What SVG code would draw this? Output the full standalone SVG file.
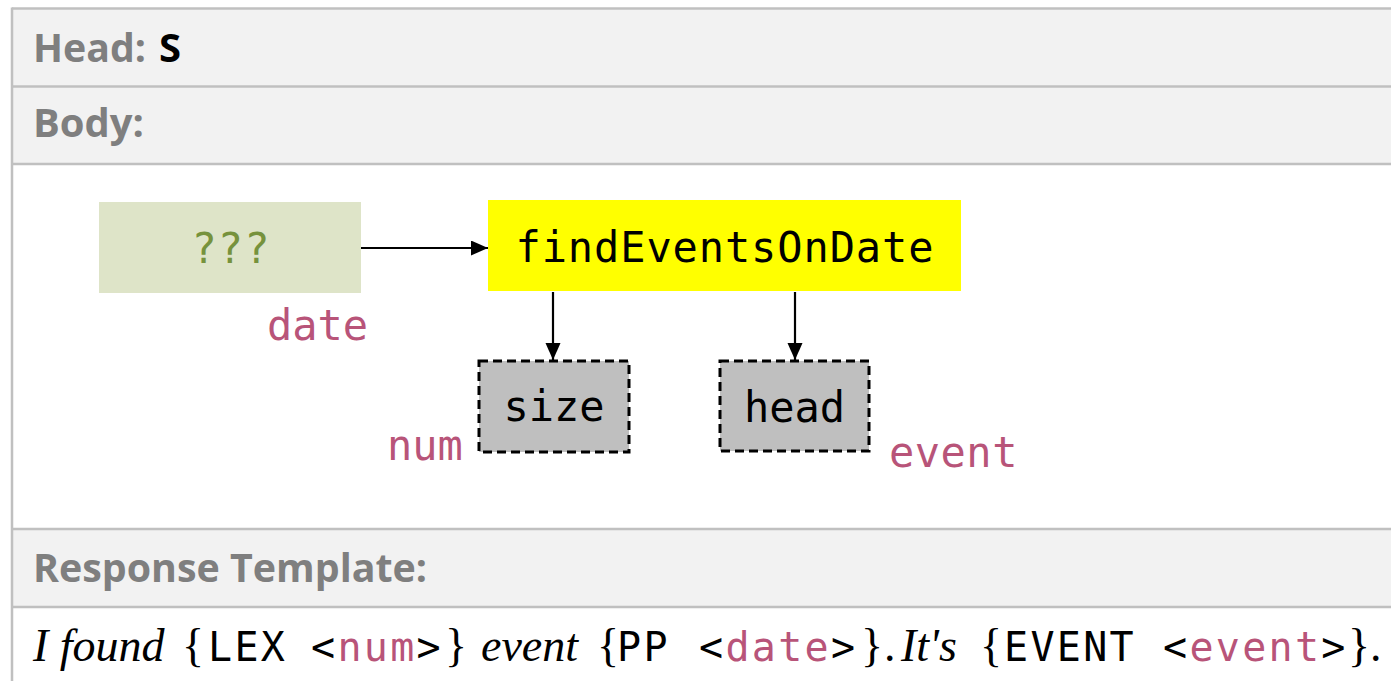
<svg xmlns="http://www.w3.org/2000/svg" width="1391" height="681" viewBox="0 0 1391 681">
  <style>
    .hdr { font-family: "Open Sans", "Liberation Sans", sans-serif; font-weight: bold; font-size: 40px; fill: #7f7f7f; }
    .mono { font-family: "DejaVu Sans Mono", "Liberation Mono", monospace; }
    .node-text { font-size: 42px; fill: #000; text-anchor: middle; }
    .lbl { font-family: "DejaVu Sans Mono", monospace; font-size: 42px; fill: #b85479; }
    .grid { stroke: #c0c0c0; stroke-width: 2.5; fill: none; }
    .edge { stroke: #000; stroke-width: 2.2; fill: none; }
    .dashed { fill: #bfbfbf; stroke: #000; stroke-width: 3; stroke-dasharray: 9 5; }
    .ser { font-family: "Liberation Serif", "Times New Roman", serif; font-size: 46px; fill: #000; }
    .it { font-style: italic; }
    .m { font-family: "DejaVu Sans Mono", monospace; font-size: 40px; letter-spacing: 2.3px; font-style: normal; }
    .pk { fill: #b85479; }
  </style>
  <defs>
    <marker id="arr" markerUnits="userSpaceOnUse" markerWidth="18" markerHeight="16" refX="17" refY="7.5" orient="auto">
      <path d="M0,0 L17,7.5 L0,15 Z" fill="#000"/>
    </marker>
  </defs>

  <!-- table frame -->
  <g id="table">
    <rect x="12" y="9" width="1379" height="77.5" fill="#f2f2f2"/>
    <rect x="12" y="86.5" width="1379" height="77.5" fill="#f2f2f2"/>
    <rect x="12" y="529" width="1379" height="78" fill="#f2f2f2"/>
    <line class="grid" x1="12" y1="8.5" x2="1391" y2="8.5"/>
    <line class="grid" x1="12" y1="86.5" x2="1391" y2="86.5"/>
    <line class="grid" x1="12" y1="164" x2="1391" y2="164"/>
    <line class="grid" x1="12" y1="529" x2="1391" y2="529"/>
    <line class="grid" x1="12" y1="607" x2="1391" y2="607"/>
    <line class="grid" x1="12" y1="7.5" x2="12" y2="681"/>
    <text class="hdr" x="33" y="62" textLength="113" lengthAdjust="spacingAndGlyphs">Head:</text>
    <text class="hdr" x="159" y="62" fill="#000" style="fill:#000">S</text>
    <text class="hdr" x="33" y="137" textLength="111" lengthAdjust="spacingAndGlyphs">Body:</text>
    <text class="hdr" x="33" y="582" textLength="394" lengthAdjust="spacingAndGlyphs">Response Template:</text>
  </g>

  <!-- connectors -->
  <g id="connectors">
    <line class="edge" x1="361" y1="248" x2="488" y2="248" marker-end="url(#arr)"/>
    <line class="edge" x1="553" y1="292" x2="553" y2="360" marker-end="url(#arr)"/>
    <line class="edge" x1="795" y1="292" x2="795" y2="360" marker-end="url(#arr)"/>
  </g>

  <g id="node-unknown">
    <rect x="99" y="202" width="262" height="91" fill="#dee4c8"/>
    <text class="mono node-text" x="231" y="263" font-size="44" style="fill:#76923c" letter-spacing="1">???</text>
    <text class="lbl" x="267" y="340">date</text>
  </g>

  <g id="node-findEventsOnDate">
    <rect x="488" y="200" width="473" height="91" fill="#ffff00"/>
    <text class="mono node-text" x="724.5" y="262" font-size="43" textLength="418">findEventsOnDate</text>
  </g>

  <g id="node-size">
    <rect class="dashed" x="479" y="361" width="150" height="91"/>
    <text class="mono node-text" x="554" y="421">size</text>
    <text class="lbl" x="387" y="460">num</text>
  </g>

  <g id="node-head">
    <rect class="dashed" x="720" y="361" width="149" height="90"/>
    <text class="mono node-text" x="794.5" y="422">head</text>
    <text class="lbl" x="889" y="467" letter-spacing="0.5">event</text>
  </g>

  <g id="template">
    <text class="ser" y="661">
      <tspan class="it" x="33">I found</tspan>
      <tspan x="182">{</tspan>
      <tspan class="m" x="208">LEX</tspan>
      <tspan class="m" x="311">&lt;<tspan class="pk">num</tspan>&gt;</tspan>
      <tspan x="445">}</tspan>
      <tspan class="it" x="481">event</tspan>
      <tspan x="597">{</tspan>
      <tspan class="m" x="617">PP</tspan>
      <tspan class="m" x="699">&lt;<tspan class="pk">date</tspan>&gt;</tspan>
      <tspan x="861">}</tspan>
      <tspan x="884">.</tspan>
      <tspan class="it" x="901">It's</tspan>
      <tspan x="980">{</tspan>
      <tspan class="m" x="1004">EVENT</tspan>
      <tspan class="m" x="1163">&lt;<tspan class="pk">event</tspan>&gt;</tspan>
      <tspan x="1348">}.</tspan>
    </text>
  </g>
</svg>
